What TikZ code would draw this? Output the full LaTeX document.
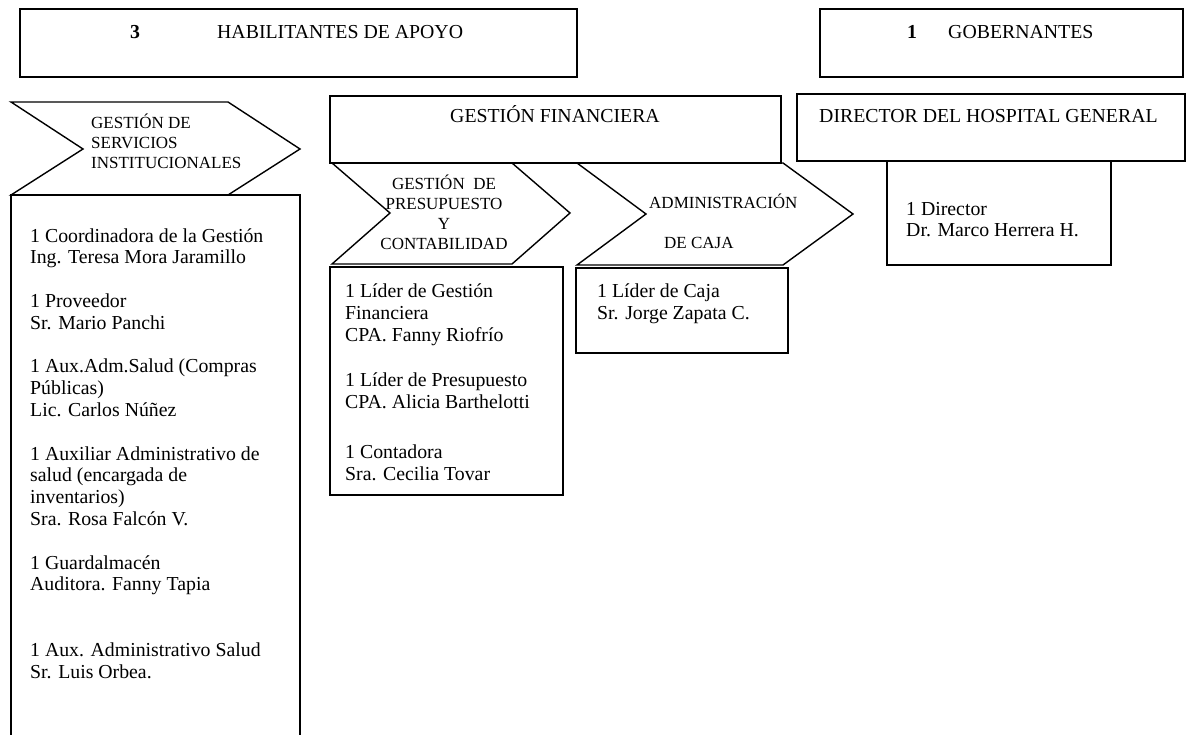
\documentclass[tikz,border=0pt]{standalone}
\usepackage{fontspec}
\setmainfont{Liberation Serif}
\begin{document}
\begin{tikzpicture}[x=1pt,y=-1pt,
  frame/.style={draw=black,line width=1.4pt,line join=miter},
  body/.style={inner sep=0pt,align=left,font={\fontsize{19.8}{21.8}\selectfont}},
  head/.style={inner sep=0pt,font={\fontsize{19.8}{21.8}\selectfont}},
  chevtxt/.style={inner sep=0pt,font={\fontsize{17}{20.3}\selectfont}}]
\useasboundingbox (0,0) rectangle (1188,735);
% header boxes
\draw[frame] (20,9) rectangle (577,77);
\node[head,anchor=base] (n3) at (135,39) {\textbf{3}};
\node[head,anchor=base west] (hab) at (217,39) {HABILITANTES DE APOYO};
\draw[frame] (820,9) rectangle (1183,77);
\node[head,anchor=base] (n1) at (912,39) {\textbf{1}};
\node[head,anchor=base west] (gob) at (948,39) {GOBERNANTES};
\draw[frame] (330,96) rectangle (781,163);
\node[head,anchor=base] (gfin) at (555,123) {GESTIÓN FINANCIERA};
\draw[frame] (797,94) rectangle (1185,161);
\node[head,anchor=base west] (dir) at (819,123) {DIRECTOR DEL HOSPITAL GENERAL};
% director sub box
\draw[frame] (887,161) rectangle (1111,265);
\node[body,anchor=base west] (dirtxt) at (906,237) {1 Director\\Dr. Marco Herrera H.};
% chevron servicios
\draw[frame] (11,102) -- (228,102) -- (300,149) -- (228,195) -- (11,195) -- (83,149) -- cycle;
\node[chevtxt,align=left,anchor=base west] (serv) at (91,169) {GESTIÓN DE\\SERVICIOS\\INSTITUCIONALES};
\draw[frame] (11,736) -- (11,195) -- (300,195) -- (300,736);
\node[body,anchor=base west] (servtxt) at (30,678) {1 Coordinadora de la Gestión\\Ing. Teresa Mora Jaramillo\\[21.8pt]
1 Proveedor\\Sr. Mario Panchi\\[21.8pt]
1 Aux.Adm.Salud (Compras\\Públicas)\\Lic. Carlos Núñez\\[21.8pt]
1 Auxiliar Administrativo de\\salud (encargada de\\inventarios)\\Sra. Rosa Falcón V.\\[21.8pt]
1 Guardalmacén\\Auditora. Fanny Tapia\\[43.6pt]
1 Aux. Administrativo Salud\\Sr. Luis Orbea.};
% chevron presupuesto
\draw[frame] (332,163) -- (512,163) -- (570,213) -- (512,264) -- (332,264) -- (390,213) -- cycle;
\node[chevtxt,align=center,anchor=base] (pres) at (444,250) {GESTIÓN~ DE\\PRESUPUESTO\\Y\\CONTABILIDAD};
\draw[frame] (330,267) rectangle (563,495);
\node[body,anchor=base west] (prestxt1) at (345,341) {1 Líder de Gestión\\Financiera\\CPA. Fanny Riofrío};
\node[body,anchor=base west] (prestxt2) at (345,408) {1 Líder de Presupuesto\\CPA. Alicia Barthelotti};
\node[body,anchor=base west] (prestxt3) at (345,480) {1 Contadora\\Sra. Cecilia Tovar};
% chevron caja
\draw[frame] (577,163) -- (783,163) -- (853,214) -- (783,265) -- (577,265) -- (646,214) -- cycle;
\node[chevtxt,anchor=base west] (adm) at (649,209) {ADMINISTRACIÓN};
\node[chevtxt,anchor=base west] (caja) at (664,249) {DE CAJA};
\draw[frame] (576,268) rectangle (788,353);
\node[body,anchor=base west] (cajatxt) at (597,319) {1 Líder de Caja\\Sr. Jorge Zapata C.};
\end{tikzpicture}
\end{document}
